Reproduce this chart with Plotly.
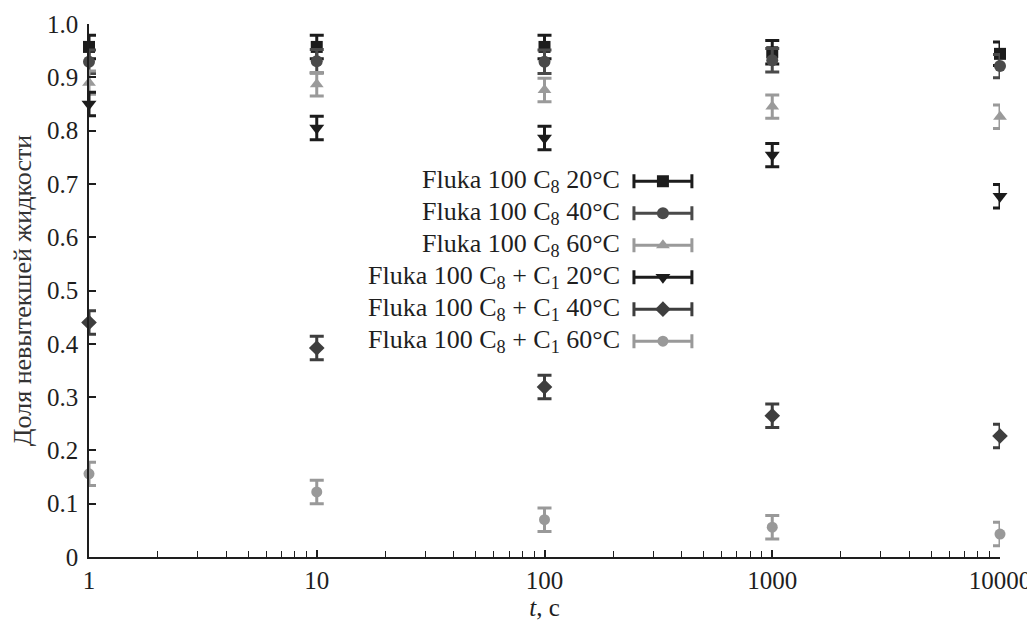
import plotly.graph_objects as go

t = [1, 10, 100, 1000, 10000]
c8_20 = [0.957, 0.957, 0.957, 0.947, 0.944]
c8_40 = [0.929, 0.930, 0.929, 0.932, 0.921]
c8_60 = [0.890, 0.887, 0.876, 0.845, 0.826]
c8c1_20 = [0.850, 0.805, 0.786, 0.754, 0.677]
c8c1_40 = [0.440, 0.392, 0.319, 0.265, 0.227]
c8c1_60 = [0.156, 0.122, 0.070, 0.056, 0.043]
err = [0.022, 0.022, 0.022, 0.022, 0.022]

names = [
    "Fluka 100 C<sub>8</sub> 20°C",
    "Fluka 100 C<sub>8</sub> 40°C",
    "Fluka 100 C<sub>8</sub> 60°C",
    "Fluka 100 C<sub>8</sub> + C<sub>1</sub> 20°C",
    "Fluka 100 C<sub>8</sub> + C<sub>1</sub> 40°C",
    "Fluka 100 C<sub>8</sub> + C<sub>1</sub> 60°C",
]
series = [c8_20, c8_40, c8_60, c8c1_20, c8c1_40, c8c1_60]
symbols = ["square", "circle", "triangle-up", "triangle-down", "diamond", "circle"]
colors = ["#1c1c1c", "#4a4a4a", "#9a9a9a", "#1c1c1c", "#3e3e3e", "#999999"]
sizes = [12, 12, 12, 13, 12, 11]

y_ticks = [0, 0.1, 0.2, 0.3, 0.4, 0.5, 0.6, 0.7, 0.8, 0.9, 1.0]
y_labels = ["0", "0.1", "0.2", "0.3", "0.4", "0.5", "0.6", "0.7", "0.8", "0.9", "1.0"]
x_ticks = [1, 10, 100, 1000, 10000]
x_labels = ["1", "10", "100", "1000", "10000"]

FONT = "Liberation Serif"
INK = "#1e1e1e"

fig = go.Figure()
for name, ys, sym, col, sz in zip(names, series, symbols, colors, sizes):
    fig.add_trace(go.Scatter(
        x=t, y=ys, mode="markers", name=name, cliponaxis=False,
        marker=dict(symbol=sym, size=sz, color=col),
        error_y=dict(type="data", array=err, color=col, thickness=3, width=7),
        showlegend=False,
    ))

# legend glyphs on an overlay axis (0..1 box), symbol to the right of the text
leg_y = [0.705, 0.645, 0.585, 0.525, 0.465, 0.405]
for i, (name, sym, col, sz) in enumerate(zip(names, symbols, colors, sizes)):
    fig.add_trace(go.Scatter(
        x=[0.630], y=[leg_y[i]], mode="markers", xaxis="x2", yaxis="y2",
        marker=dict(symbol=sym, size=sz, color=col), showlegend=False,
        error_x=dict(type="data", array=[0.0318], color=col, thickness=3, width=7),
        hoverinfo="skip", cliponaxis=False,
    ))
    fig.add_annotation(
        x=0.585, y=leg_y[i], xref="x2", yref="y2", text=name, showarrow=False,
        xanchor="right", yanchor="middle",
        font=dict(family=FONT, size=26, color=INK),
    )

# page body adds an 8px offset; figure sized to fit the 1035x624 window
fig.update_layout(
    width=1027, height=616,
    margin=dict(l=81, r=35, t=16, b=67),
    paper_bgcolor="white", plot_bgcolor="white",
    font=dict(family=FONT, size=24, color=INK),
    xaxis=dict(
        type="log", range=[0, 4], showgrid=False, zeroline=False, automargin=False,
        showline=True, linecolor=INK, linewidth=1.5,
        ticks="inside", ticklen=7, tickwidth=1.5, tickcolor=INK,
        tickvals=x_ticks, ticktext=x_labels, tickfont=dict(size=25),
        minor=dict(ticks="inside", ticklen=6, tickwidth=1.2, tickcolor=INK,
                   tickvals=[m * 10 ** d for d in range(4) for m in range(2, 10)]),
        title=dict(text="<i>t</i>, c", standoff=2, font=dict(size=25)),
    ),
    yaxis=dict(
        range=[0, 1.0], showgrid=False, zeroline=False, automargin=False,
        showline=True, linecolor=INK, linewidth=1.5,
        ticks="inside", ticklen=7, tickwidth=1.5, tickcolor=INK,
        tickvals=y_ticks, ticktext=y_labels, tickfont=dict(size=25),
        ticklabelstandoff=4,
        title=dict(text="Доля невытекшей жидкости", standoff=10, font=dict(size=26, color="#333333")),
    ),
    xaxis2=dict(domain=[0, 1], range=[0, 1], overlaying="x", visible=False, anchor="y2"),
    yaxis2=dict(domain=[0, 1], range=[0, 1], overlaying="y", visible=False, anchor="x2"),
)

fig.write_html("out.html")
